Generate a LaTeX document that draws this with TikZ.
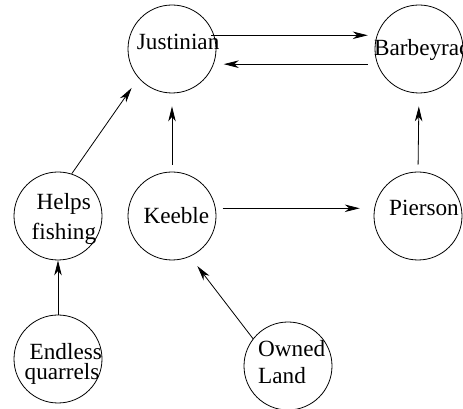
\documentclass[tikz,border=0pt]{standalone}
\usepackage{fontspec}
\setmainfont{Liberation Serif}
\newfontfamily\timesfam{Liberation Serif}
\usetikzlibrary{arrows.meta}
\begin{document}
\begin{tikzpicture}[x=1pt,y=1pt,
  circ/.style={draw,circle,minimum size=88pt,inner sep=0pt,line width=0.8pt},
  lbl/.style={anchor=base west,inner sep=0pt,font=\timesfam\fontsize{23.2}{27}\selectfont},
  arr/.style={line width=0.8pt,-{Stealth[length=15pt,width=7.5pt,inset=4.5pt]}}]
\useasboundingbox (0,0) rectangle (463,409);
% circles
\node[circ] (J) at (172,360) {};
\node[circ] (B) at (419,360) {};
\node[circ] (H) at (58,193) {};
\node[circ] (K) at (172,193) {};
\node[circ] (P) at (418,193) {};
\node[circ] (E) at (58,50) {};
\node[circ] (O) at (288,43) {};
% labels
\node[lbl] (tJ) at (136.7,359.5) {Justinian};
\node[lbl] (tB) at (374,353) {Barbeyrac};
\node[lbl] (tH1) at (36.5,199.7) {Helps};
\node[lbl] (tH2) at (31.5,169) {fishing};
\node[lbl] (tK) at (143.3,185.7) {Keeble};
\node[lbl] (tP) at (389,193) {Pierson};
\node[lbl] (tE1) at (29.5,49) {Endless};
\node[lbl] (tE2) at (24.5,29.5) {quarrels};
\node[lbl] (tO1) at (258,52.3) {Owned};
\node[lbl] (tO2) at (258,25.7) {Land};
% connectors
\draw[arr,shorten <=-3pt,shorten >=9pt] (J.18) -- (B.162);
\draw[arr,shorten <=9.5pt,shorten >=10pt] (B.200) -- (J.-20);
\draw[arr,shorten <=7pt,shorten >=13pt] (K.north) -- (J.south);
\draw[arr,shorten <=7pt,shorten >=13pt] (P.north) -- (B.south);
\draw[arr,shorten <=7pt,shorten >=14.5pt] (K.10) -- (P.170);
\draw[arr,shorten >=12pt] (H.72) -- (J.221);
\draw[arr] (E.north) -- (H.south);
\draw[arr,shorten >=12pt] (O.142) -- (K.-66);
\end{tikzpicture}
\end{document}
